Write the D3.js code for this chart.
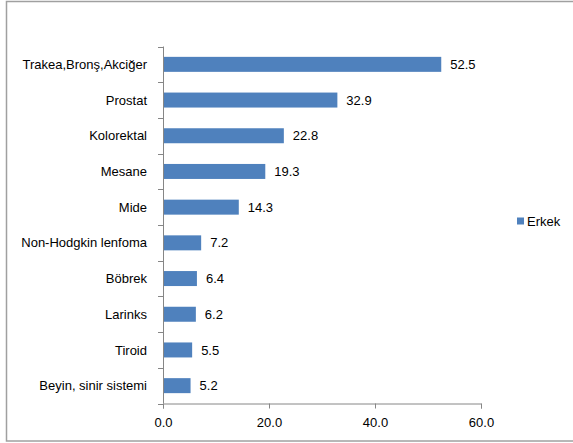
<!DOCTYPE html>
<html>
<head>
<meta charset="utf-8">
<script src="https://cdn.jsdelivr.net/npm/d3@7"></script>
<style>
  body { margin: 0; background: #fff; }
  svg text { font-family: "Liberation Sans", Arial, sans-serif; fill: #000; }
</style>
</head>
<body>
<svg id="chart" width="573" height="443"></svg>
<script>
var categories = ['Trakea,Bronş,Akciğer', 'Prostat', 'Kolorektal', 'Mesane', 'Mide',
    'Non-Hodgkin lenfoma', 'Böbrek', 'Larinks', 'Tiroid', 'Beyin, sinir sistemi'];
var erkek = [52.5, 32.9, 22.8, 19.3, 14.3, 7.2, 6.4, 6.2, 5.5, 5.2];
var xTicks = [0, 20, 40, 60];
var seriesName = 'Erkek';

var margin = { top: 46.5, left: 163, right: 92, bottom: 39.5 };
var svg = d3.select('#chart');
var width = 573, height = 443;
var barColor = '#4f81bd';
var fontSize = '13px';

// outer frame
svg.append('rect')
    .attr('x', 6.5).attr('y', 1.5)
    .attr('width', 580).attr('height', 439.5)
    .attr('fill', 'none').attr('stroke', '#a0a0a0').attr('stroke-width', 1.5);

var x = d3.scaleLinear().domain([0, 60]).range([margin.left, 481]);
var y = d3.scaleBand().domain(categories)
    .range([margin.top, height - margin.bottom])
    .paddingInner(0.58).paddingOuter(0.29);

var data = categories.map(function(c, i) { return { name: c, value: erkek[i] }; });

svg.selectAll('rect.bar').data(data).enter().append('rect')
    .attr('class', 'bar')
    .attr('x', x(0))
    .attr('y', function(d) { return y(d.name); })
    .attr('width', function(d) { return x(d.value) - x(0); })
    .attr('height', y.bandwidth())
    .attr('fill', barColor);

svg.selectAll('text.val').data(data).enter().append('text')
    .attr('class', 'val')
    .attr('x', function(d) { return x(d.value) + 9; })
    .attr('y', function(d) { return y(d.name) + y.bandwidth() / 2; })
    .attr('dy', '0.35em')
    .style('font-size', fontSize)
    .text(function(d) { return d.value.toFixed(1); });

// y axis: ticks between categories
var step = y.step();
var yLine = svg.append('g').attr('class', 'y-axis');
var yTickPos = d3.range(categories.length + 1).map(function(i) { return margin.top + i * step; });
yLine.append('line')
    .attr('x1', x(0) + 0.5).attr('x2', x(0) + 0.5)
    .attr('y1', yTickPos[0]).attr('y2', yTickPos[yTickPos.length - 1])
    .attr('stroke', '#868686');
yLine.selectAll('line.tk').data(yTickPos).enter().append('line')
    .attr('class', 'tk')
    .attr('x1', x(0) - 5).attr('x2', x(0) + 0.5)
    .attr('y1', function(d) { return Math.round(d) + 0.5; })
    .attr('y2', function(d) { return Math.round(d) + 0.5; })
    .attr('stroke', '#868686');
yLine.selectAll('text').data(categories).enter().append('text')
    .attr('x', x(0) - 16)
    .attr('y', function(d) { return y(d) + y.bandwidth() / 2; })
    .attr('dy', '0.35em')
    .attr('text-anchor', 'end')
    .style('font-size', fontSize)
    .text(function(d) { return d; });

// x axis
var xAxis = d3.axisBottom(x).tickValues(xTicks).tickSize(5).tickPadding(9)
    .tickFormat(d3.format('.1f'));
var gx = svg.append('g')
    .attr('transform', 'translate(0,' + (height - margin.bottom) + ')')
    .call(xAxis);
gx.select('.domain').attr('stroke', '#868686');
gx.selectAll('.tick line').attr('stroke', '#868686');
gx.selectAll('.tick text')
    .style('font-size', fontSize)
    .style('font-family', '"Liberation Sans", Arial, sans-serif')
    .attr('fill', '#000');

// legend
var lg = svg.append('g').attr('transform', 'translate(517,221)');
lg.append('rect').attr('x', 0).attr('y', -3.5).attr('width', 7).attr('height', 7).attr('fill', barColor);
lg.append('text').attr('x', 10).attr('y', 0).attr('dy', '0.35em')
    .style('font-size', fontSize).text(seriesName);
</script>
</body>
</html>
